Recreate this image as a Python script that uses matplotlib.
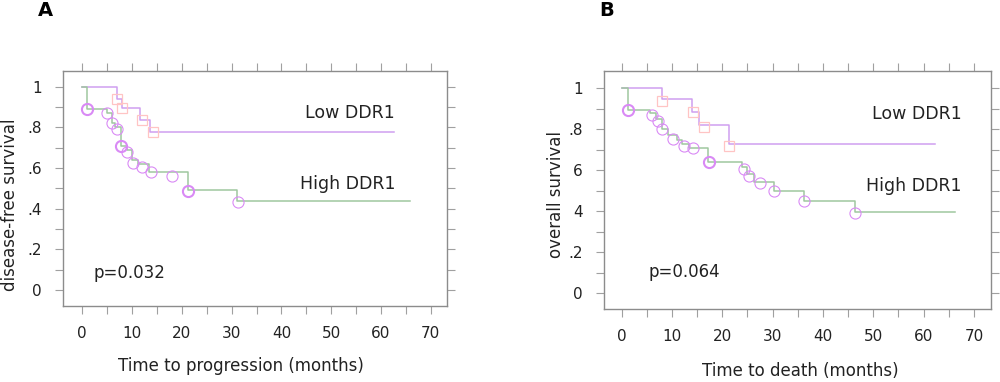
import matplotlib
matplotlib.use("Agg")
import matplotlib.pyplot as plt
from matplotlib.ticker import MultipleLocator, FixedLocator, FixedFormatter

# Panel A: disease-free survival
a_low_t = [0, 7, 8, 11.6, 13.6, 62.5]
a_low_s = [1.0, 0.94, 0.894, 0.836, 0.776, 0.776]
a_low_cens_t = [7.0, 7.9, 12.1, 14.3]
a_low_cens_s = [0.94, 0.895, 0.836, 0.776]

a_high_t = [0, 1, 4.9, 5.9, 6.6, 7.8, 8.9, 9.9, 11.2, 13.5, 21.2, 31.0, 65.8]
a_high_s = [1.0, 0.89, 0.872, 0.823, 0.80, 0.708, 0.69, 0.64, 0.618, 0.58, 0.49, 0.437, 0.437]
a_high_cens_t = [1, 4.9, 5.9, 7.0, 7.8, 8.9, 10.1, 12.1, 13.9, 18.0, 21.2, 31.2]
a_high_cens_s = [0.89, 0.869, 0.82, 0.79, 0.708, 0.68, 0.623, 0.607, 0.582, 0.56, 0.488, 0.432]
a_high_cens_n = [2, 1, 1, 1, 2, 1, 1, 1, 1, 1, 2, 1]

# Panel B: overall survival
b_low_t = [0, 8, 14, 15.3, 21.3, 62.3]
b_low_s = [1.0, 0.946, 0.886, 0.821, 0.728, 0.728]
b_low_cens_t = [8.0, 14.2, 16.3, 21.3]
b_low_cens_s = [0.94, 0.886, 0.813, 0.72]

b_high_t = [0, 1.2, 5.7, 6.9, 8, 9.3, 11, 12, 13.3, 17.2, 24, 25, 26.3, 30.3, 36.3, 46.3, 66.3]
b_high_s = [1.0, 0.894, 0.878, 0.849, 0.80, 0.772, 0.748, 0.728, 0.71, 0.638, 0.615, 0.582, 0.544, 0.50, 0.45, 0.398, 0.398]
b_high_cens_t = [1.2, 6.0, 7.3, 8.0, 10.3, 12.3, 14.2, 17.3, 24.3, 25.3, 27.5, 30.3, 36.3, 46.3]
b_high_cens_s = [0.894, 0.87, 0.84, 0.80, 0.751, 0.72, 0.707, 0.638, 0.605, 0.57, 0.536, 0.50, 0.45, 0.39]
b_high_cens_n = [2, 1, 1, 1, 1, 1, 1, 2, 1, 1, 1, 1, 1, 1]

x_ticks = [0, 10, 20, 30, 40, 50, 60, 70]
y_ticks = [0, 0.2, 0.4, 0.6, 0.8, 1.0]
a_ylabels = ["0", ".2", ".4", ".6", ".8", "1"]
b_ylabels = ["0", ".2", "4", "6", ".8", "1"]

LOW_COLOR = "#cf9ff0"
HIGH_COLOR = "#9fc79f"
CIRCLE_COLOR = "#d98af5"
SQUARE_COLOR = "#ffc4c4"
FRAME = "#8c8c8c"
TEXT = "#222222"

W, H = 1000, 382
fig = plt.figure(figsize=(W / 100, H / 100), dpi=100)
plt.rcParams['font.family'] = ['DejaVu Sans']


def setup_axes(ax, ylabels, xlim, ylim):
    ax.set_xlim(*xlim)
    ax.set_ylim(*ylim)
    ax.xaxis.set_major_locator(FixedLocator(x_ticks))
    ax.xaxis.set_minor_locator(MultipleLocator(5))
    ax.yaxis.set_major_locator(FixedLocator(y_ticks))
    ax.yaxis.set_major_formatter(FixedFormatter(ylabels))
    ax.yaxis.set_minor_locator(MultipleLocator(0.1))
    for sp in ax.spines.values():
        sp.set_color(FRAME)
        sp.set_linewidth(1.0)
    ax.tick_params(which="both", direction="out", length=6, width=0.8,
                   color="#a0a0a0", top=True, right=True)
    ax.tick_params(axis="x", which="major", pad=8.5, labelsize=11, labelcolor=TEXT)
    ax.tick_params(axis="y", which="major", pad=9.5, labelsize=11, labelcolor=TEXT)


def draw_km(ax, lt, ls, lct, lcs, ht, hs, hct, hcs, hcn):
    ax.step(lt, ls, where="post", color=LOW_COLOR, lw=1.1, zorder=3)
    ax.step(ht, hs, where="post", color=HIGH_COLOR, lw=1.1, zorder=3)
    ax.plot(lct, lcs, ls="none", marker="s", ms=6.5, mfc="none",
            mec=SQUARE_COLOR, mew=0.9, zorder=4)
    for t, s, n in zip(hct, hcs, hcn):
        ax.plot(t, s, ls="none", marker="o", ms=8, mfc="none",
                mec=CIRCLE_COLOR, mew=0.8 + 0.7 * (n - 1), zorder=4)


# Panel A
axA = fig.add_axes([63.3 / W, 1 - 306 / H, 384 / W, (306 - 70.7) / H])
setup_axes(axA, a_ylabels, (-3.8, 73.3), (-0.079, 1.079))
draw_km(axA, a_low_t, a_low_s, a_low_cens_t, a_low_cens_s,
        a_high_t, a_high_s, a_high_cens_t, a_high_cens_s, a_high_cens_n)
axA.text(62.8, 0.872, "Low DDR1", ha="right", va="center", fontsize=12.5, color=TEXT)
axA.text(62.8, 0.52, "High DDR1", ha="right", va="center", fontsize=12.5, color=TEXT)
axA.text(2.2, 0.085, "p=0.032", ha="left", va="center", fontsize=12, color=TEXT)

# Panel B
axB = fig.add_axes([604 / W, 1 - 309.3 / H, 387 / W, (309.3 - 71) / H])
setup_axes(axB, b_ylabels, (-3.5, 73.4), (-0.078, 1.084))
draw_km(axB, b_low_t, b_low_s, b_low_cens_t, b_low_cens_s,
        b_high_t, b_high_s, b_high_cens_t, b_high_cens_s, b_high_cens_n)
axB.text(67.6, 0.873, "Low DDR1", ha="right", va="center", fontsize=12.5, color=TEXT)
axB.text(67.6, 0.525, "High DDR1", ha="right", va="center", fontsize=12.5, color=TEXT)
axB.text(5.3, 0.105, "p=0.064", ha="left", va="center", fontsize=12, color=TEXT)

# axis labels and panel letters
fig.text(241 / W, 1 - 366 / H, "Time to progression (months)", ha="center", va="center",
         fontsize=12, color=TEXT)
fig.text(800 / W, 1 - 371 / H, "Time to death (months)", ha="center", va="center",
         fontsize=12, color=TEXT)
fig.text(10 / W, 1 - 205 / H, "disease-free survival", ha="center", va="center",
         rotation=90, fontsize=12, color=TEXT)
fig.text(556 / W, 1 - 195 / H, "overall survival", ha="center", va="center",
         rotation=90, fontsize=12, color=TEXT)
fig.text(45 / W, 1 - 11 / H, "A", ha="center", va="center", fontsize=14,
         fontweight="bold", color="black")
fig.text(607 / W, 1 - 11 / H, "B", ha="center", va="center", fontsize=14,
         fontweight="bold", color="black")

fig.savefig("out.png", dpi=100)
